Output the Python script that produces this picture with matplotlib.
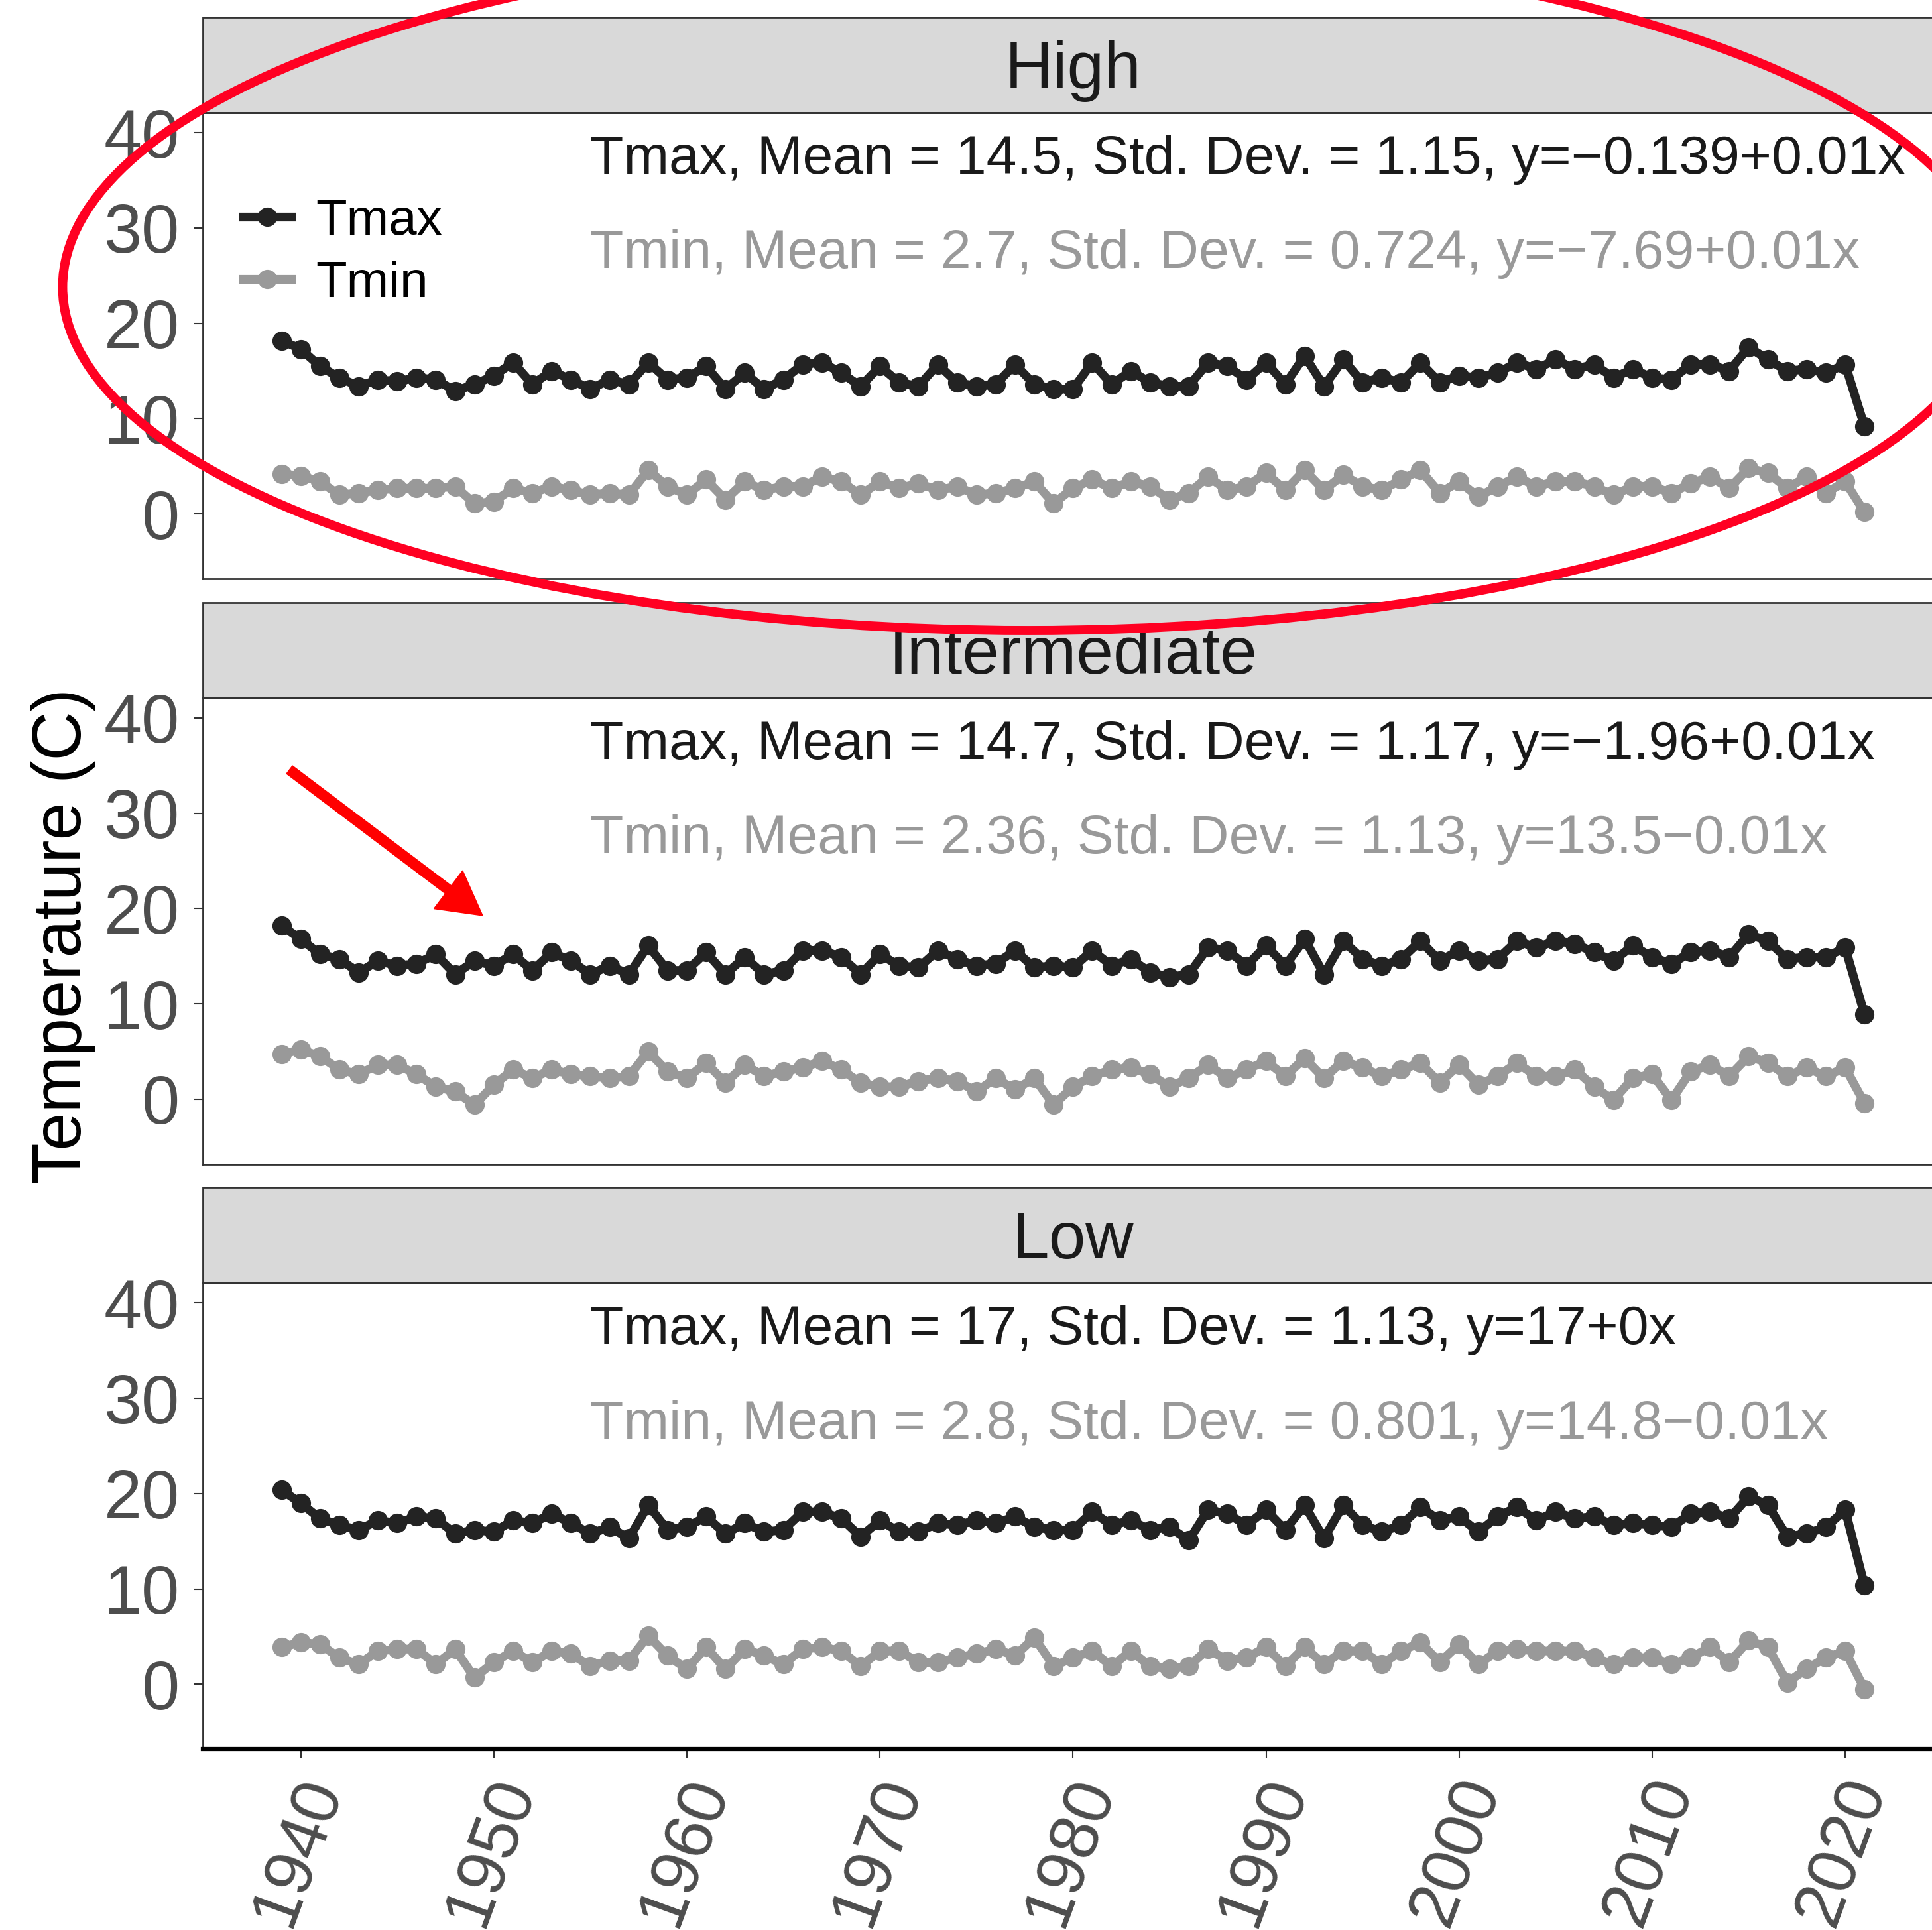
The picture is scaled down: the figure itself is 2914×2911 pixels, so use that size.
import matplotlib
matplotlib.use('Agg')
import matplotlib.pyplot as plt
from matplotlib.patches import Ellipse, FancyArrow, Rectangle
from matplotlib.transforms import IdentityTransform, ScaledTranslation

plt.rcParams['font.family'] = ['Liberation Sans', 'DejaVu Sans']

years = list(range(1939, 2022))
panels = ['High', 'Intermediate', 'Low']

high_tmax = [18.2, 17.3, 15.5, 14.3, 13.4, 14.1, 13.9, 14.3, 14.1, 12.9, 13.6, 14.5, 15.9, 13.6, 15.0, 14.1, 13.1, 14.1, 13.6, 15.9, 14.1, 14.3, 15.5, 13.1, 14.8, 13.1, 14.1,
             15.7, 15.9, 14.8, 13.4, 15.5, 13.8, 13.4, 15.7, 13.8, 13.4, 13.6, 15.7, 13.6, 13.1, 13.1, 15.9, 13.6, 15.0, 13.8, 13.4, 13.4, 15.9, 15.5, 14.1, 15.9, 13.6, 16.6,
             13.4, 16.2, 13.8, 14.3, 13.8, 15.9, 13.8, 14.5, 14.3, 14.8, 15.9, 15.2, 16.2, 15.2, 15.7, 14.3, 15.2, 14.3, 14.1, 15.7, 15.7, 15.0, 17.5, 16.2, 15.0, 15.2, 14.8, 15.7, 9.2]
high_tmin = [4.2, 4.0, 3.4, 2.0, 2.2, 2.5, 2.7, 2.7, 2.7, 2.9, 1.1, 1.3, 2.7, 2.2, 2.9, 2.5, 2.0, 2.2, 2.0, 4.6, 2.9, 2.0, 3.6, 1.5, 3.4, 2.5, 2.9,
             2.9, 3.9, 3.4, 2.0, 3.4, 2.7, 3.2, 2.5, 2.9, 2.0, 2.2, 2.7, 3.4, 1.1, 2.7, 3.6, 2.7, 3.4, 2.9, 1.5, 2.2, 3.9, 2.5, 2.9, 4.3, 2.5, 4.6,
             2.5, 4.1, 2.9, 2.5, 3.6, 4.6, 2.2, 3.4, 1.8, 2.9, 3.9, 2.9, 3.4, 3.4, 2.9, 2.0, 2.9, 2.9, 2.2, 3.2, 3.9, 2.7, 4.8, 4.3, 2.7, 3.9, 2.2, 3.4, 0.2]

inter_tmax = [18.2, 16.8, 15.2, 14.7, 13.3, 14.5, 14.0, 14.2, 15.2, 13.1, 14.5, 14.0, 15.2, 13.5, 15.4, 14.5, 13.1, 14.0, 13.1, 16.1, 13.5, 13.5, 15.4, 13.1, 14.9, 13.1, 13.5,
              15.6, 15.6, 14.9, 13.1, 15.2, 14.0, 13.8, 15.6, 14.7, 14.0, 14.2, 15.6, 13.8, 14.0, 13.8, 15.6, 14.0, 14.7, 13.3, 12.8, 13.1, 15.9, 15.6, 14.0, 16.1, 14.0, 16.8,
              13.1, 16.6, 14.7, 14.0, 14.7, 16.6, 14.5, 15.6, 14.5, 14.7, 16.6, 15.9, 16.6, 16.3, 15.4, 14.5, 16.1, 14.9, 14.2, 15.4, 15.6, 14.9, 17.3, 16.6, 14.7, 14.9, 14.9, 15.9, 8.9]
inter_tmin = [4.7, 5.2, 4.5, 3.1, 2.6, 3.6, 3.6, 2.6, 1.3, 0.8, -0.6, 1.5, 3.1, 2.2, 3.1, 2.6, 2.4, 2.2, 2.4, 5.0, 2.9, 2.2, 3.8, 1.7, 3.6, 2.4, 2.9,
              3.3, 4.0, 3.1, 1.7, 1.3, 1.3, 1.9, 2.2, 1.9, 0.8, 2.2, 1.0, 2.2, -0.6, 1.3, 2.4, 3.1, 3.3, 2.6, 1.3, 2.2, 3.6, 2.2, 3.1, 4.0, 2.4, 4.3,
              2.2, 4.0, 3.3, 2.4, 3.1, 3.8, 1.7, 3.6, 1.5, 2.4, 3.8, 2.4, 2.4, 3.1, 1.3, -0.1, 2.2, 2.6, -0.1, 2.9, 3.6, 2.4, 4.5, 3.8, 2.4, 3.3, 2.4, 3.3, -0.4]

low_tmax = [20.4, 19.0, 17.4, 16.7, 16.2, 17.2, 16.9, 17.6, 17.4, 15.8, 16.2, 16.0, 17.2, 16.9, 17.9, 16.9, 15.8, 16.5, 15.3, 18.8, 16.2, 16.5, 17.6, 15.8, 16.9, 16.0, 16.2,
            18.1, 18.1, 17.4, 15.5, 17.2, 16.0, 16.0, 16.9, 16.7, 17.2, 16.9, 17.6, 16.5, 16.2, 16.2, 18.1, 16.7, 17.2, 16.2, 16.5, 15.1, 18.3, 17.9, 16.7, 18.3, 16.2, 18.8,
            15.3, 18.8, 16.7, 16.0, 16.7, 18.6, 17.2, 17.6, 16.0, 17.6, 18.6, 17.2, 18.1, 17.4, 17.6, 16.7, 16.9, 16.7, 16.5, 17.9, 18.1, 17.4, 19.7, 18.8, 15.5, 15.8, 16.5, 18.3, 10.4]
low_tmin = [3.9, 4.4, 4.2, 2.8, 2.1, 3.5, 3.7, 3.7, 2.1, 3.7, 0.7, 2.3, 3.5, 2.3, 3.5, 3.2, 1.9, 2.5, 2.5, 5.1, 3.0, 1.6, 3.9, 1.6, 3.7, 3.0, 2.1,
            3.7, 3.9, 3.5, 1.9, 3.5, 3.5, 2.3, 2.3, 2.8, 3.2, 3.7, 3.0, 4.9, 1.9, 2.8, 3.5, 1.9, 3.5, 1.9, 1.6, 1.9, 3.7, 2.5, 2.8, 3.9, 1.9, 3.9,
            2.1, 3.5, 3.5, 2.1, 3.5, 4.4, 2.3, 4.2, 2.1, 3.5, 3.7, 3.5, 3.5, 3.5, 2.8, 2.1, 2.8, 2.8, 2.1, 2.8, 3.9, 2.3, 4.6, 3.9, 0.2, 1.6, 2.8, 3.5, -0.5]

tmax_series = [high_tmax, inter_tmax, low_tmax]
tmin_series = [high_tmin, inter_tmin, low_tmin]

tmax_labels = ['Tmax, Mean = 14.5, Std. Dev. = 1.15, y=\u22120.139+0.01x',
               'Tmax, Mean = 14.7, Std. Dev. = 1.17, y=\u22121.96+0.01x',
               'Tmax, Mean = 17, Std. Dev. = 1.13, y=17+0x']
tmin_labels = ['Tmin, Mean = 2.7, Std. Dev. = 0.724, y=\u22127.69+0.01x',
               'Tmin, Mean = 2.36, Std. Dev. = 1.13, y=13.5\u22120.01x',
               'Tmin, Mean = 2.8, Std. Dev. = 0.801, y=14.8\u22120.01x']

y_ticks = [0, 10, 20, 30, 40]
x_ticks = [1940, 1950, 1960, 1970, 1980, 1990, 2000, 2010, 2020]

col_max = '#232323'
col_min = '#999999'

W, H = 2914, 2911
fig = plt.figure(figsize=(W / 100, H / 100), dpi=100)

# layout in pixels (from the top)
panel_tops = [170, 1052.6, 1935.2]
panel_h = 703
left_px, right_px = 306, 2930.7
strip_h = 144

for i, name in enumerate(panels):
    top = panel_tops[i]
    ax = fig.add_axes([left_px / W, 1 - (top + panel_h) / H, (right_px - left_px) / W, panel_h / H])
    ax.plot(years, tmax_series[i], color=col_max, lw=9.5, marker='o', ms=20,
            solid_joinstyle='round', label='Tmax')
    ax.plot(years, tmin_series[i], color=col_min, lw=9.5, marker='o', ms=20,
            solid_joinstyle='round', label='Tmin')
    ax.set_xlim(1934.93, 2025.07)
    ax.set_ylim(-6.8, 42.1)
    ax.set_yticks(y_ticks)
    ax.set_xticks(x_ticks)

    for s in ax.spines.values():
        s.set_color('#333333')
        s.set_linewidth(2)

    ax.tick_params(axis='y', length=9.4, width=1.5, color='#333333',
                   labelsize=74, labelcolor='#4d4d4d', pad=16)

    # facet strip
    sh = strip_h / panel_h
    ax.add_patch(Rectangle((0, 1), 1, sh, transform=ax.transAxes, clip_on=False,
                           facecolor='#d9d9d9', edgecolor='#333333', lw=2))
    ax.text(0.5, 1 + sh / 2 - 9 / panel_h, name, transform=ax.transAxes, ha='center',
            va='center', fontsize=72, color='#1a1a1a')

    ax.text(1955, 35.7, tmax_labels[i], color='#1a1a1a', fontsize=59.3, ha='left', va='baseline')
    ax.text(1955, 25.8, tmin_labels[i], color=col_min, fontsize=59.3, ha='left', va='baseline')

    if i == 0:
        ax.legend(loc='upper left', bbox_to_anchor=(0.0232, 0.817), frameon=False,
                  fontsize=55, borderpad=0, borderaxespad=0, handlelength=0.95,
                  handletextpad=0.48, labelspacing=0.3, numpoints=1)

    if i < 2:
        ax.tick_params(axis='x', bottom=False, labelbottom=False)
    else:
        ax.spines['bottom'].set_linewidth(4.5)
        ax.spines['bottom'].set_color('black')
        ax.tick_params(axis='x', length=9.4, width=1.5, color='#333333',
                       labelsize=74, labelcolor='#4d4d4d', pad=24.5)
        ax.set_xticklabels([str(y) for y in x_ticks])
        shift = ScaledTranslation(0.35, 0, fig.dpi_scale_trans)
        for lab in ax.get_xticklabels():
            lab.set_rotation(70)
            lab.set_rotation_mode('anchor')
            lab.set_ha('right')
            lab.set_va('center')
            lab.set_transform(lab.get_transform() + shift)

fig.text(96 / W, 1 - 1412 / H, 'Temperature (C)', rotation=90, ha='center', va='center',
         fontsize=74, color='black')

# red highlight marks drawn over the figure
fig.add_artist(Ellipse((1551, H - 433), 2913, 1036, fill=False, edgecolor='#ff0022',
                       lw=10, transform=IdentityTransform()))
fig.add_artist(FancyArrow(436.6, H - 1161, 728 - 436.6, -(1381 - 1161), width=15,
                          head_width=72, head_length=65, length_includes_head=True,
                          color='#ff0000', transform=IdentityTransform()))

plt.savefig('out.png', dpi=100)
